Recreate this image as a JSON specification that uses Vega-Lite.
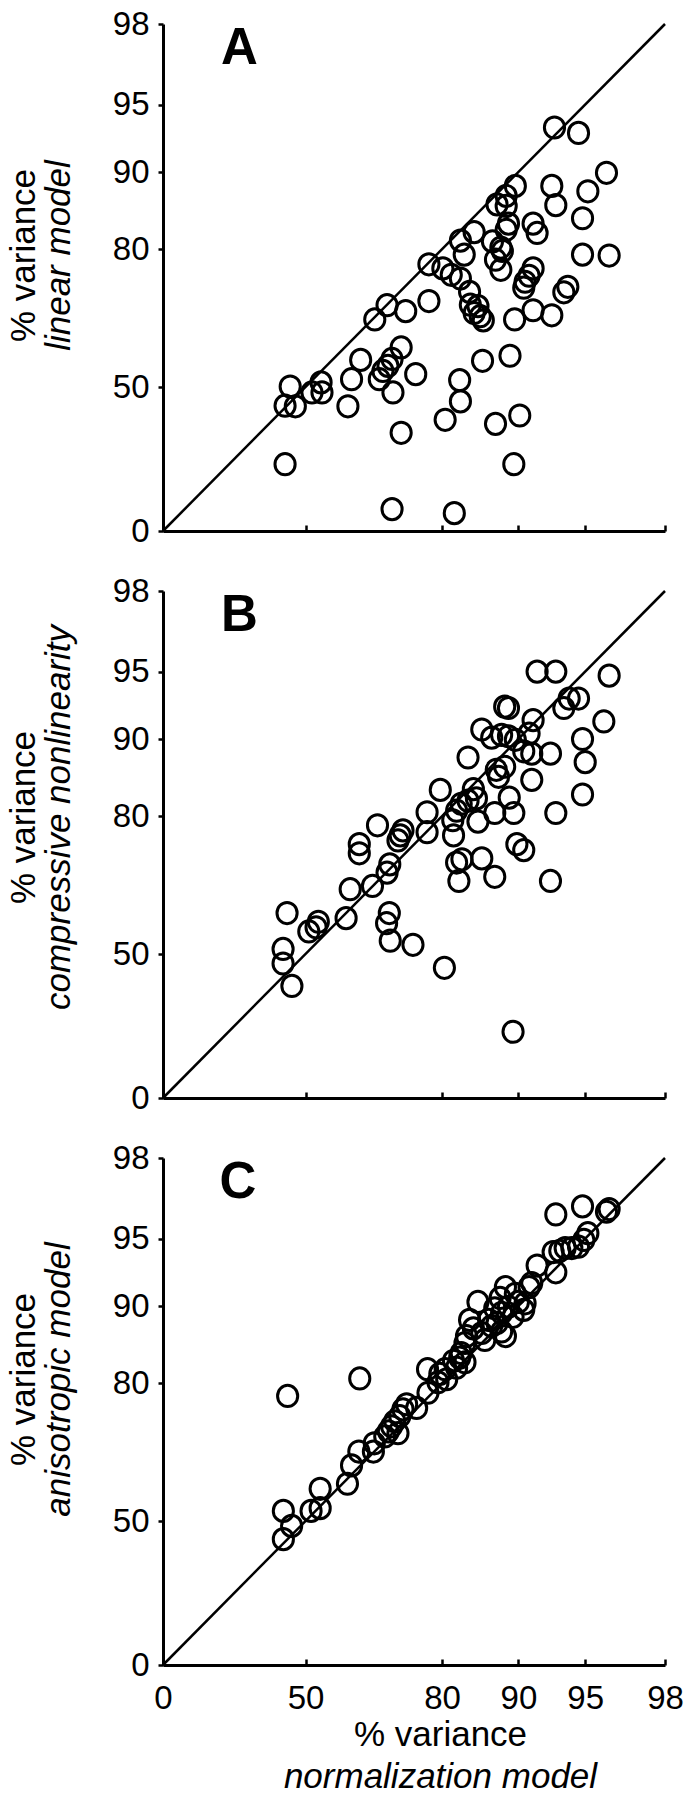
{
  "$schema": "https://vega.github.io/schema/vega-lite/v6.json",
  "padding": {"left": 6, "top": 8, "right": 10, "bottom": 5},
  "bounds": "flush",
  "spacing": 60,
  "config": {
    "font": "Liberation Sans",
    "view": {"stroke": null},
    "axis": {
      "grid": false, "domainColor": "black", "domainWidth": 3, "tickColor": "black", "tickWidth": 2.5,
      "labelColor": "black", "labelFontSize": 33, "labelFont": "Liberation Sans",
      "titleColor": "black", "titleFontSize": 35, "titleFontWeight": "normal", "titleFont": "Liberation Sans",
      "labelOverlap": false, "labelFlush": false
    }
  },
  "datasets": {
    "diag": [{"start": 0, "end": 98}],
    "A": [
      {"normalization": 92.7, "model": 93.3}, {"normalization": 94.5, "model": 92.9}, {"normalization": 95.8, "model": 89.9},
      {"normalization": 92.5, "model": 88.2}, {"normalization": 95.1, "model": 87.5}, {"normalization": 92.8, "model": 85.7},
      {"normalization": 94.8, "model": 84.0}, {"normalization": 89.6, "model": 88.2}, {"normalization": 88.4, "model": 86.9},
      {"normalization": 87.2, "model": 85.8}, {"normalization": 88.4, "model": 85.6}, {"normalization": 88.7, "model": 83.3},
      {"normalization": 88.4, "model": 82.5}, {"normalization": 91.1, "model": 83.3}, {"normalization": 91.4, "model": 82.1},
      {"normalization": 84.2, "model": 82.2}, {"normalization": 82.4, "model": 81.1}, {"normalization": 82.9, "model": 78.8},
      {"normalization": 86.6, "model": 81.0}, {"normalization": 87.7, "model": 80.2}, {"normalization": 87.9, "model": 79.6},
      {"normalization": 87.0, "model": 77.7}, {"normalization": 87.7, "model": 75.5}, {"normalization": 94.8, "model": 78.8},
      {"normalization": 95.9, "model": 78.6}, {"normalization": 77.1, "model": 76.7}, {"normalization": 80.1, "model": 75.8},
      {"normalization": 81.2, "model": 74.4}, {"normalization": 82.4, "model": 73.6}, {"normalization": 83.6, "model": 70.7},
      {"normalization": 91.1, "model": 75.8}, {"normalization": 90.8, "model": 74.2}, {"normalization": 90.5, "model": 72.9},
      {"normalization": 90.4, "model": 71.6}, {"normalization": 93.7, "model": 71.8}, {"normalization": 93.4, "model": 70.6},
      {"normalization": 77.1, "model": 68.7}, {"normalization": 83.7, "model": 67.9}, {"normalization": 84.7, "model": 67.6},
      {"normalization": 84.2, "model": 66.1}, {"normalization": 85.0, "model": 65.4}, {"normalization": 85.4, "model": 64.5},
      {"normalization": 67.9, "model": 67.8}, {"normalization": 72.0, "model": 66.5}, {"normalization": 65.2, "model": 64.7},
      {"normalization": 89.5, "model": 64.7}, {"normalization": 91.1, "model": 66.7}, {"normalization": 92.5, "model": 65.6},
      {"normalization": 71.0, "model": 58.6}, {"normalization": 62.1, "model": 55.9}, {"normalization": 69.0, "model": 56.1},
      {"normalization": 68.1, "model": 54.6}, {"normalization": 67.0, "model": 53.5}, {"normalization": 60.1, "model": 51.7},
      {"normalization": 66.2, "model": 51.7}, {"normalization": 74.2, "model": 52.8}, {"normalization": 85.3, "model": 55.7},
      {"normalization": 88.9, "model": 56.8}, {"normalization": 82.3, "model": 51.5}, {"normalization": 44.6, "model": 50.1},
      {"normalization": 51.4, "model": 48.1}, {"normalization": 53.4, "model": 51.0}, {"normalization": 53.6, "model": 48.1},
      {"normalization": 42.8, "model": 43.5}, {"normalization": 46.4, "model": 43.3}, {"normalization": 69.2, "model": 48.1},
      {"normalization": 59.3, "model": 43.3}, {"normalization": 82.4, "model": 45.0}, {"normalization": 80.4, "model": 38.6},
      {"normalization": 87.0, "model": 37.2}, {"normalization": 90.1, "model": 40.1}, {"normalization": 71.0, "model": 34.1},
      {"normalization": 42.8, "model": 23.2}, {"normalization": 89.4, "model": 23.2}, {"normalization": 69.0, "model": 7.6},
      {"normalization": 81.6, "model": 6.2}
    ],
    "B": [
      {"normalization": 91.4, "model": 95.0}, {"normalization": 92.8, "model": 95.0}, {"normalization": 95.9, "model": 94.7},
      {"normalization": 93.8, "model": 93.0}, {"normalization": 94.5, "model": 93.0}, {"normalization": 93.4, "model": 92.3},
      {"normalization": 88.2, "model": 92.4}, {"normalization": 88.7, "model": 92.3}, {"normalization": 91.1, "model": 91.4},
      {"normalization": 95.7, "model": 91.3}, {"normalization": 85.2, "model": 90.7}, {"normalization": 86.5, "model": 90.1},
      {"normalization": 87.8, "model": 90.3}, {"normalization": 88.7, "model": 90.2}, {"normalization": 89.6, "model": 89.9},
      {"normalization": 90.8, "model": 90.4}, {"normalization": 94.8, "model": 90.0}, {"normalization": 90.4, "model": 88.4},
      {"normalization": 91.0, "model": 88.1}, {"normalization": 92.4, "model": 88.1}, {"normalization": 95.0, "model": 87.0},
      {"normalization": 83.4, "model": 87.6}, {"normalization": 87.1, "model": 86.0}, {"normalization": 88.2, "model": 86.4},
      {"normalization": 87.4, "model": 85.1}, {"normalization": 91.0, "model": 84.7}, {"normalization": 79.6, "model": 83.4},
      {"normalization": 84.1, "model": 83.5}, {"normalization": 88.8, "model": 82.4}, {"normalization": 94.8, "model": 82.8},
      {"normalization": 82.5, "model": 81.6}, {"normalization": 83.4, "model": 82.0}, {"normalization": 81.9, "model": 80.7},
      {"normalization": 81.4, "model": 79.1}, {"normalization": 86.9, "model": 80.4}, {"normalization": 89.4, "model": 80.4},
      {"normalization": 92.8, "model": 80.4}, {"normalization": 84.7, "model": 78.8}, {"normalization": 76.7, "model": 80.5},
      {"normalization": 76.7, "model": 76.5}, {"normalization": 81.5, "model": 75.8}, {"normalization": 65.8, "model": 78.0},
      {"normalization": 71.4, "model": 76.9}, {"normalization": 70.8, "model": 75.8}, {"normalization": 70.3, "model": 74.7},
      {"normalization": 61.8, "model": 73.9}, {"normalization": 61.8, "model": 71.9}, {"normalization": 89.8, "model": 73.9},
      {"normalization": 90.4, "model": 72.6}, {"normalization": 68.5, "model": 69.5}, {"normalization": 67.9, "model": 67.7},
      {"normalization": 82.6, "model": 70.6}, {"normalization": 81.9, "model": 69.9}, {"normalization": 85.2, "model": 70.8},
      {"normalization": 86.9, "model": 66.8}, {"normalization": 82.2, "model": 65.9}, {"normalization": 92.4, "model": 65.9},
      {"normalization": 59.8, "model": 64.1}, {"normalization": 64.7, "model": 64.8}, {"normalization": 43.5, "model": 58.9},
      {"normalization": 68.4, "model": 58.9}, {"normalization": 67.8, "model": 56.7}, {"normalization": 58.9, "model": 57.8},
      {"normalization": 52.8, "model": 57.0}, {"normalization": 52.3, "model": 55.8}, {"normalization": 50.7, "model": 54.9},
      {"normalization": 68.6, "model": 52.9}, {"normalization": 73.6, "model": 52.0}, {"normalization": 42.1, "model": 51.1},
      {"normalization": 42.1, "model": 46.7}, {"normalization": 45.2, "model": 38.9}, {"normalization": 80.3, "model": 45.2},
      {"normalization": 89.3, "model": 23.0}, {"normalization": 84.5, "model": 82.3}
    ],
    "C": [
      {"normalization": 92.8, "model": 95.9}, {"normalization": 94.8, "model": 96.2}, {"normalization": 95.8, "model": 96.0},
      {"normalization": 95.9, "model": 96.1}, {"normalization": 95.1, "model": 95.2}, {"normalization": 94.9, "model": 94.9},
      {"normalization": 94.5, "model": 94.4}, {"normalization": 94.0, "model": 94.3}, {"normalization": 93.5, "model": 94.3},
      {"normalization": 93.1, "model": 94.1}, {"normalization": 92.6, "model": 94.0}, {"normalization": 92.8, "model": 92.5},
      {"normalization": 91.4, "model": 93.0}, {"normalization": 91.0, "model": 91.7}, {"normalization": 90.8, "model": 91.4},
      {"normalization": 88.3, "model": 91.4}, {"normalization": 87.6, "model": 90.6}, {"normalization": 90.0, "model": 90.3},
      {"normalization": 90.4, "model": 89.5}, {"normalization": 88.7, "model": 89.9}, {"normalization": 84.7, "model": 90.3},
      {"normalization": 87.8, "model": 89.1}, {"normalization": 87.2, "model": 87.8}, {"normalization": 87.8, "model": 86.7},
      {"normalization": 88.3, "model": 86.1}, {"normalization": 86.5, "model": 87.4}, {"normalization": 85.6, "model": 85.6},
      {"normalization": 83.6, "model": 88.2}, {"normalization": 84.1, "model": 87.1}, {"normalization": 83.2, "model": 86.1},
      {"normalization": 83.0, "model": 85.2}, {"normalization": 82.5, "model": 83.9}, {"normalization": 82.3, "model": 83.3},
      {"normalization": 83.0, "model": 82.7}, {"normalization": 81.9, "model": 82.0}, {"normalization": 80.4, "model": 81.8},
      {"normalization": 79.5, "model": 81.2}, {"normalization": 80.6, "model": 80.5}, {"normalization": 76.8, "model": 81.8},
      {"normalization": 61.9, "model": 80.6}, {"normalization": 43.7, "model": 77.2}, {"normalization": 76.9, "model": 77.9},
      {"normalization": 74.4, "model": 74.6}, {"normalization": 72.2, "model": 75.4}, {"normalization": 71.4, "model": 74.3},
      {"normalization": 70.7, "model": 72.8}, {"normalization": 69.6, "model": 71.7}, {"normalization": 68.9, "model": 70.6},
      {"normalization": 68.2, "model": 69.5}, {"normalization": 67.4, "model": 68.4}, {"normalization": 70.3, "model": 69.1},
      {"normalization": 65.1, "model": 66.9}, {"normalization": 64.9, "model": 65.1}, {"normalization": 61.7, "model": 65.1},
      {"normalization": 60.1, "model": 62.1}, {"normalization": 59.2, "model": 58.1}, {"normalization": 53.2, "model": 57.0},
      {"normalization": 53.2, "model": 52.8}, {"normalization": 51.2, "model": 52.2}, {"normalization": 42.2, "model": 52.2},
      {"normalization": 45.1, "model": 48.3}, {"normalization": 42.2, "model": 43.7}, {"normalization": 89.3, "model": 88.6},
      {"normalization": 86.9, "model": 89.7}, {"normalization": 86.1, "model": 88.2}, {"normalization": 90.5, "model": 90.2},
      {"normalization": 89.6, "model": 90.9}, {"normalization": 85.2, "model": 86.5}, {"normalization": 81.5, "model": 82.9},
      {"normalization": 79.1, "model": 80.1}
    ]
  },
  "vconcat": [
    {
      "width": 502, "height": 507,
      "layer": [
        {
          "data": {"name": "diag"},
          "mark": {"type": "rule", "strokeWidth": 2.5, "color": "black"},
          "encoding": {
            "x": {"field": "start", "type": "quantitative", "scale": {"type": "linear", "domain": [0, 50, 80, 90, 95, 98], "range": [0, 142.6, 279.1, 355.4, 422.2, 502], "nice": false, "zero": false}, "axis": null},
            "y": {"field": "start", "type": "quantitative", "scale": {"type": "linear", "domain": [0, 50, 80, 90, 95, 98], "range": [507, 363, 225.1, 148, 80.6, 0], "nice": false, "zero": false},
                  "axis": {"orient": "left", "title": "% variance", "domain": false, "ticks": false, "labels": false, "titleX": -129, "titleY": 231, "titleBaseline": "alphabetic", "titleAngle": -90}},
            "x2": {"field": "end"},
            "y2": {"field": "end"}
          }
        },
        {
          "data": {"name": "A"},
          "mark": {"type": "point", "shape": "M-0.95,0A0.95,1 0 1,1 0.95,0A0.95,1 0 1,1 -0.95,0Z", "size": 450, "filled": false, "color": "black", "strokeWidth": 3, "opacity": 1},
          "encoding": {
            "x": {"field": "normalization", "type": "quantitative", "scale": {"type": "linear", "domain": [0, 50, 80, 90, 95, 98], "range": [0, 142.6, 279.1, 355.4, 422.2, 502], "nice": false, "zero": false},
                  "axis": {"orient": "bottom", "values": [0, 50, 80, 90, 95, 98], "labels": false, "title": null, "tickSize": -6}},
            "y": {"field": "model", "type": "quantitative", "scale": {"type": "linear", "domain": [0, 50, 80, 90, 95, 98], "range": [507, 363, 225.1, 148, 80.6, 0], "nice": false, "zero": false},
                  "axis": {"orient": "left", "values": [0, 50, 80, 90, 95, 98], "tickSize": 5, "labelPadding": 9, "title": "linear model", "titleFontStyle": "italic", "titleX": -94, "titleY": 231, "titleBaseline": "alphabetic", "titleAngle": -90}}
          }
        },
        {
          "data": {"values": [{"panel": "A"}]},
          "mark": {"type": "text", "font": "Liberation Sans", "fontSize": 51, "fontWeight": "bold", "align": "left", "baseline": "alphabetic", "color": "black"},
          "encoding": {
            "text": {"field": "panel"},
            "x": {"datum": 20.3, "type": "quantitative", "axis": null},
            "y": {"datum": 96.5, "type": "quantitative", "axis": null}
          }
        }
      ],
      "resolve": {"axis": {"x": "independent", "y": "independent"}}
    },
    {
      "width": 502, "height": 507,
      "layer": [
        {
          "data": {"name": "diag"},
          "mark": {"type": "rule", "strokeWidth": 2.5, "color": "black"},
          "encoding": {
            "x": {"field": "start", "type": "quantitative", "scale": {"type": "linear", "domain": [0, 50, 80, 90, 95, 98], "range": [0, 142.6, 279.1, 355.4, 422.2, 502], "nice": false, "zero": false}, "axis": null},
            "y": {"field": "start", "type": "quantitative", "scale": {"type": "linear", "domain": [0, 50, 80, 90, 95, 98], "range": [507, 363, 225.1, 148, 80.6, 0], "nice": false, "zero": false},
                  "axis": {"orient": "left", "title": "% variance", "domain": false, "ticks": false, "labels": false, "titleX": -129, "titleY": 226, "titleBaseline": "alphabetic", "titleAngle": -90}},
            "x2": {"field": "end"},
            "y2": {"field": "end"}
          }
        },
        {
          "data": {"name": "B"},
          "mark": {"type": "point", "shape": "M-0.95,0A0.95,1 0 1,1 0.95,0A0.95,1 0 1,1 -0.95,0Z", "size": 450, "filled": false, "color": "black", "strokeWidth": 3, "opacity": 1},
          "encoding": {
            "x": {"field": "normalization", "type": "quantitative", "scale": {"type": "linear", "domain": [0, 50, 80, 90, 95, 98], "range": [0, 142.6, 279.1, 355.4, 422.2, 502], "nice": false, "zero": false},
                  "axis": {"orient": "bottom", "values": [0, 50, 80, 90, 95, 98], "labels": false, "title": null, "tickSize": -6}},
            "y": {"field": "model", "type": "quantitative", "scale": {"type": "linear", "domain": [0, 50, 80, 90, 95, 98], "range": [507, 363, 225.1, 148, 80.6, 0], "nice": false, "zero": false},
                  "axis": {"orient": "left", "values": [0, 50, 80, 90, 95, 98], "tickSize": 5, "labelPadding": 9, "title": "compressive nonlinearity", "titleFontStyle": "italic", "titleX": -94, "titleY": 226, "titleBaseline": "alphabetic", "titleAngle": -90}}
          }
        },
        {
          "data": {"values": [{"panel": "B"}]},
          "mark": {"type": "text", "font": "Liberation Sans", "fontSize": 51, "fontWeight": "bold", "align": "left", "baseline": "alphabetic", "color": "black"},
          "encoding": {
            "text": {"field": "panel"},
            "x": {"datum": 20.3, "type": "quantitative", "axis": null},
            "y": {"datum": 96.5, "type": "quantitative", "axis": null}
          }
        }
      ],
      "resolve": {"axis": {"x": "independent", "y": "independent"}}
    },
    {
      "width": 502, "height": 507,
      "layer": [
        {
          "data": {"name": "diag"},
          "mark": {"type": "rule", "strokeWidth": 2.5, "color": "black"},
          "encoding": {
            "x": {"field": "start", "type": "quantitative", "scale": {"type": "linear", "domain": [0, 50, 80, 90, 95, 98], "range": [0, 142.6, 279.1, 355.4, 422.2, 502], "nice": false, "zero": false},
                  "axis": {"orient": "bottom", "title": "normalization model", "titleFontStyle": "italic", "domain": false, "ticks": false, "labels": false, "titleX": 277, "titleY": 122, "titleBaseline": "alphabetic", "titleAlign": "center"}},
            "y": {"field": "start", "type": "quantitative", "scale": {"type": "linear", "domain": [0, 50, 80, 90, 95, 98], "range": [507, 363, 225.1, 148, 80.6, 0], "nice": false, "zero": false},
                  "axis": {"orient": "left", "title": "% variance", "domain": false, "ticks": false, "labels": false, "titleX": -129, "titleY": 221, "titleBaseline": "alphabetic", "titleAngle": -90}},
            "x2": {"field": "end"},
            "y2": {"field": "end"}
          }
        },
        {
          "data": {"name": "C"},
          "mark": {"type": "point", "shape": "M-0.95,0A0.95,1 0 1,1 0.95,0A0.95,1 0 1,1 -0.95,0Z", "size": 450, "filled": false, "color": "black", "strokeWidth": 3, "opacity": 1},
          "encoding": {
            "x": {"field": "normalization", "type": "quantitative", "scale": {"type": "linear", "domain": [0, 50, 80, 90, 95, 98], "range": [0, 142.6, 279.1, 355.4, 422.2, 502], "nice": false, "zero": false},
                  "axis": {"orient": "bottom", "values": [0, 50, 80, 90, 95, 98], "tickSize": -6, "labelPadding": 23, "title": "% variance", "titleX": 277, "titleY": 80, "titleBaseline": "alphabetic", "titleAlign": "center"}},
            "y": {"field": "model", "type": "quantitative", "scale": {"type": "linear", "domain": [0, 50, 80, 90, 95, 98], "range": [507, 363, 225.1, 148, 80.6, 0], "nice": false, "zero": false},
                  "axis": {"orient": "left", "values": [0, 50, 80, 90, 95, 98], "tickSize": 5, "labelPadding": 9, "title": "anisotropic model", "titleFontStyle": "italic", "titleX": -94, "titleY": 221, "titleBaseline": "alphabetic", "titleAngle": -90}}
          }
        },
        {
          "data": {"values": [{"panel": "C"}]},
          "mark": {"type": "text", "font": "Liberation Sans", "fontSize": 51, "fontWeight": "bold", "align": "left", "baseline": "alphabetic", "color": "black"},
          "encoding": {
            "text": {"field": "panel"},
            "x": {"datum": 19.8, "type": "quantitative", "axis": null},
            "y": {"datum": 96.5, "type": "quantitative", "axis": null}
          }
        }
      ],
      "resolve": {"axis": {"x": "independent", "y": "independent"}}
    }
  ]
}
